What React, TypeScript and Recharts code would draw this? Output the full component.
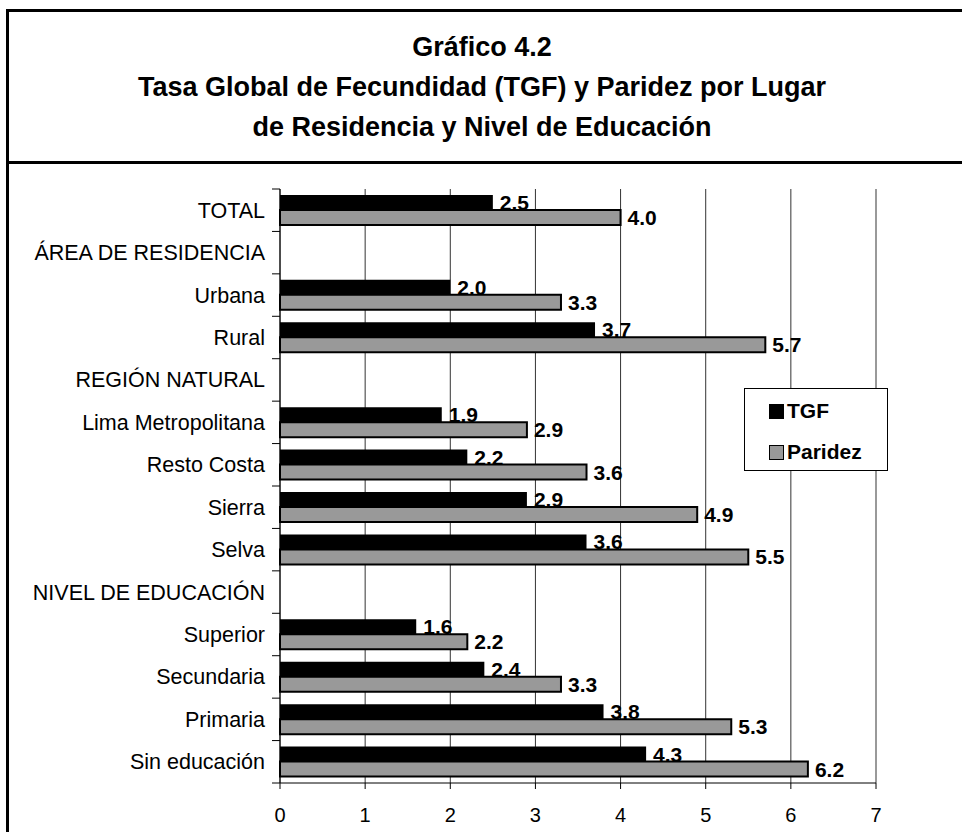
import { BarChart, Bar, XAxis, YAxis, CartesianGrid, LabelList, ReferenceLine } from 'recharts'

const categories = [
  'TOTAL',
  'ÁREA DE RESIDENCIA',
  'Urbana',
  'Rural',
  'REGIÓN NATURAL',
  'Lima Metropolitana',
  'Resto Costa',
  'Sierra',
  'Selva',
  'NIVEL DE EDUCACIÓN',
  'Superior',
  'Secundaria',
  'Primaria',
  'Sin educación'
]

const tgf = [2.5, null, 2.0, 3.7, null, 1.9, 2.2, 2.9, 3.6, null, 1.6, 2.4, 3.8, 4.3]
const paridez = [4.0, null, 3.3, 5.7, null, 2.9, 3.6, 4.9, 5.5, null, 2.2, 3.3, 5.3, 6.2]

const xTicks = [0, 1, 2, 3, 4, 5, 6, 7]

const titleLines = [
  'Gráfico 4.2',
  'Tasa Global de Fecundidad (TGF) y Paridez por Lugar',
  'de Residencia y Nivel de Educación'
]

const legendItems = [
  { name: 'TGF', color: '#000' },
  { name: 'Paridez', color: '#999' }
]

const data = categories.map((name, i) => ({ name, tgf: tgf[i], paridez: paridez[i] }))

const FONT = '"Liberation Sans", Arial, Helvetica, sans-serif'
const W = 962
const H = 832
const margin = { top: 189, right: 86, bottom: 9, left: 0 }
const xAxisHeight = 40
const band = (H - margin.top - margin.bottom - xAxisHeight) / categories.length

const CategoryTick = (props: any) => {
  const { x, y, payload, index } = props
  const last = index === categories.length - 1
  return (
    <g>
      <line x1={x - 8} x2={x} y1={y - band / 2} y2={y - band / 2} stroke='#000' />
      {last && <line x1={x - 8} x2={x} y1={y + band / 2} y2={y + band / 2} stroke='#000' />}
      <text x={x - 15} y={y} dy='0.35em' textAnchor='end' fontSize={21.5} fontFamily={FONT} fill='#000'>
        {payload.value}
      </text>
    </g>
  )
}

const fmt = (v: any) => (v == null ? '' : Number(v).toFixed(1))

const labelStyle = { fontSize: 21, fontWeight: 'bold', fontFamily: FONT, fill: '#000' }

const LegendBox = () => (
  <div
    style={{
      position: 'absolute',
      left: 744,
      top: 388,
      width: 144,
      height: 83,
      border: '1.5px solid #000',
      background: '#fff',
      boxSizing: 'border-box',
      fontFamily: FONT,
      fontWeight: 'bold',
      fontSize: 21,
      padding: '9px 0 0 24px'
    }}
  >
    {legendItems.map((item, i) => (
      <div key={item.name} style={{ display: 'flex', alignItems: 'center', height: 26, marginTop: i ? 15 : 0 }}>
        <span
          style={{
            width: 15,
            height: 15,
            boxSizing: 'border-box',
            background: item.color,
            border: '1.5px solid #000',
            marginRight: 3
          }}
        />
        {item.name}
      </div>
    ))}
  </div>
)

export default function App() {
  return (
    <div style={{ position: 'fixed', left: 0, top: 0, width: W, height: H, background: '#fff', overflow: 'hidden' }}>
      <div style={{ position: 'absolute', left: 6, top: 9, width: 3, height: H, background: '#000' }} />
      <div style={{ position: 'absolute', left: 6, top: 9, width: W, height: 3, background: '#000' }} />
      <div style={{ position: 'absolute', left: 6, top: 161, width: W, height: 3, background: '#000' }} />
      <div
        style={{
          position: 'absolute',
          left: 9,
          top: 27,
          width: 946,
          textAlign: 'center',
          fontFamily: FONT,
          fontWeight: 'bold',
          fontSize: 27,
          lineHeight: '40px',
          color: '#000'
        }}
      >
        {titleLines.map((t) => (
          <div key={t}>{t}</div>
        ))}
      </div>
      <div style={{ position: 'absolute', left: 0, top: 0 }}>
        <BarChart
          width={W}
          height={H}
          data={data}
          layout='vertical'
          margin={margin}
          barGap={0}
          barSize={15}
        >
          <CartesianGrid horizontal={false} stroke='#333' />
          <XAxis
            type='number'
            domain={[0, 7]}
            ticks={xTicks}
            interval={0}
            height={xAxisHeight}
            axisLine={{ stroke: '#000' }}
            tickLine={{ stroke: '#000' }}
            tickSize={6}
            tickMargin={19}
            tick={{ fontSize: 20, fill: '#000', fontFamily: FONT }}
          />
          <XAxis
            xAxisId='top'
            orientation='top'
            type='number'
            domain={[0, 7]}
            height={0}
            tick={false}
            tickLine={false}
            axisLine={{ stroke: '#999', strokeWidth: 2 }}
          />
          <YAxis
            type='category'
            dataKey='name'
            width={280}
            interval={0}
            tickSize={0}
            tickMargin={0}
            axisLine={{ stroke: '#000' }}
            tickLine={false}
            tick={<CategoryTick />}
          />
          <ReferenceLine x={7} stroke='#999' strokeWidth={2} />
          <Bar dataKey='tgf' name='TGF' fill='#000' isAnimationActive={false}>
            <LabelList dataKey='tgf' position='right' offset={7} formatter={fmt} style={labelStyle} />
          </Bar>
          <Bar dataKey='paridez' name='Paridez' fill='#999' stroke='#000' strokeWidth={2} isAnimationActive={false}>
            <LabelList dataKey='paridez' position='right' offset={7} formatter={fmt} style={labelStyle} />
          </Bar>
        </BarChart>
      </div>
      <LegendBox />
    </div>
  )
}
